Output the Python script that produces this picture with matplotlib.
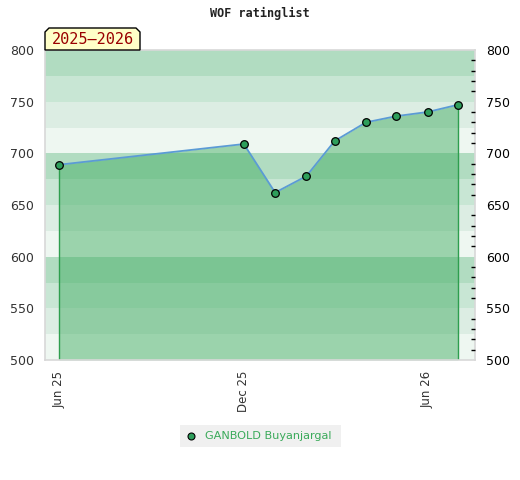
import datetime as dt
import matplotlib
matplotlib.use("Agg")
import matplotlib.pyplot as plt
import matplotlib.dates as mdates
from matplotlib.patches import Polygon

# ── Data ─────────────────────────────────────────────────────────────────────
dates = [
    dt.date(2025, 6, 1), dt.date(2025, 12, 1), dt.date(2026, 1, 1),
    dt.date(2026, 2, 1), dt.date(2026, 3, 1), dt.date(2026, 4, 1),
    dt.date(2026, 5, 1), dt.date(2026, 6, 1), dt.date(2026, 7, 1),
]
ratings = [689, 709, 662, 678, 712, 730, 736, 740, 747]
player = "GANBOLD Buyanjargal"
season = "2025\u20132026"
tick_dates = [dt.date(2025, 6, 1), dt.date(2025, 12, 1), dt.date(2026, 6, 1)]
band_colors = ["#eef7f1", "#dcede3", "#c8e6d4", "#b1dcc1"]

# ── Figure ───────────────────────────────────────────────────────────────────
fig = plt.figure(figsize=(5.2, 4.8), dpi=100)
ax = fig.add_axes([45 / 520, 1 - 360 / 480, 430 / 520, 310 / 480])

x0 = mdates.date2num(dt.date(2025, 5, 18))
x1 = mdates.date2num(dt.date(2026, 7, 18))
ax.set_xlim(x0, x1)
ax.set_ylim(500, 800)

# horizontal bands every 25 points
for i, lo in enumerate(range(500, 800, 25)):
    ax.axhspan(lo, lo + 25, color=band_colors[i % 4], lw=0, zorder=0)

xs = mdates.date2num(dates)
ax.fill_between(xs, ratings, 500, color="#41ac61", alpha=0.48, lw=0, zorder=1)
ax.vlines([xs[0], xs[-1]], 500, [ratings[0], ratings[-1]],
          color="#2e9e4e", lw=1, zorder=2)
ax.plot(xs, ratings, color="#5b9bd5", lw=1.3, zorder=3)
ax.plot(xs, ratings, "o", ms=5.5, mfc="#2e9e5b", mec="black", mew=0.9,
        zorder=4)

ax.set_xticks(mdates.date2num(tick_dates))
ax.xaxis.set_major_formatter(mdates.DateFormatter("%b %y"))
ax.tick_params(axis="x", length=0, labelsize=8.5, labelcolor="#333333",
               rotation=90, pad=8)
ax.set_yticks(range(500, 801, 50))
ax.tick_params(axis="y", length=0, labelsize=9, labelcolor="#333333", pad=8)

for s in ax.spines.values():
    s.set_color("#d8d8d8")
    s.set_linewidth(1.2)

# right axis with minor ticks every 10
ax2 = ax.twinx()
ax2.set_ylim(500, 800)
ax2.set_yticks(range(500, 801, 50))
ax2.set_yticks(range(510, 800, 10), minor=True)
ax2.tick_params(axis="y", which="major", length=0, labelsize=9,
                labelcolor="black", pad=8)
ax2.tick_params(axis="y", which="minor", direction="in", length=3,
                width=1, color="black")
for s in ax2.spines.values():
    s.set_visible(False)

# title
fig.text(0.5, 1 - 13 / 480, "WOF ratinglist", ha="center", va="center",
         family="DejaVu Sans Mono", fontweight="bold", fontsize=8.5,
         color="#222222")

# season label box with clipped corners
bx0, bx1, by0, by1, c = 45, 140, 28, 50, 4
pts = [(bx0, by1), (bx0, by0 + c), (bx0 + c, by0), (bx1 - c, by0),
       (bx1, by0 + c), (bx1, by1)]
pts = [(px / 520, 1 - py / 480) for px, py in pts]
fig.patches.append(Polygon(pts, closed=True, transform=fig.transFigure,
                           facecolor="#ffffc8", edgecolor="black", lw=1,
                           zorder=5))
fig.text((bx0 + bx1) / 2 / 520, 1 - 40 / 480, season, ha="center",
         va="center", fontsize=11, color="#990000",
         family="DejaVu Sans Mono", zorder=6)

# legend
fig.patches.append(plt.Rectangle((180 / 520, 1 - 447 / 480), 161 / 520,
                                 22 / 480, transform=fig.transFigure,
                                 facecolor="#f0f0f0", edgecolor="none"))
fig.lines.append(plt.Line2D([191 / 520], [1 - 436 / 480], marker="o", ms=5,
                            mfc="#2e9e5b", mec="black", mew=0.8,
                            transform=fig.transFigure))
fig.text(205 / 520, 1 - 436 / 480, player, ha="left", va="center",
         fontsize=8.1, color="#3aaa5a")

fig.savefig("out.png", dpi=100)
